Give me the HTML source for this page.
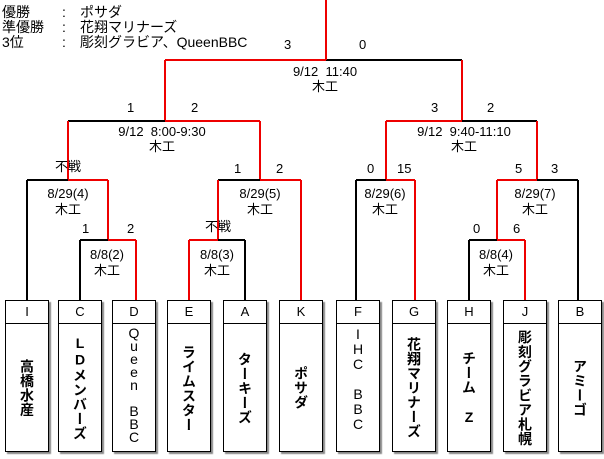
<!DOCTYPE html>
<html><head><meta charset="utf-8"><style>
body{margin:0;width:604px;height:459px;background:#fff;position:relative;overflow:hidden;font-family:"Liberation Sans","Noto Sans CJK JP",sans-serif;}
.t{position:absolute;font-size:13px;line-height:15px;color:#000;white-space:pre;}
.h{font-size:14px;}
.c{position:absolute;font-size:13px;line-height:15px;text-align:center;width:120px;white-space:pre;}
.box{position:absolute;top:300px;width:42px;height:150px;border:1px solid #000;box-shadow:2px 2px 1px #888;background:#fff;}
.hd{height:22px;border-bottom:1px solid #000;text-align:center;font-size:13px;line-height:22px;}
.nm{position:absolute;left:0;right:0;top:24px;bottom:0;display:flex;align-items:center;justify-content:center;overflow:visible;}
.v{writing-mode:vertical-rl;text-orientation:upright;font-size:14px;font-weight:bold;line-height:16px;letter-spacing:0.5px;white-space:pre;}
.q{position:absolute;left:0;right:0;top:26px;text-align:center;font-size:14px;}
svg{position:absolute;left:0;top:0;}
</style></head><body>
<div class="t h" style="left:2px;top:5px">優勝</div><div class="t h" style="left:62px;top:5px">:</div><div class="t h" style="left:80px;top:5px">ポサダ</div>
<div class="t h" style="left:2px;top:20px">準優勝</div><div class="t h" style="left:62px;top:20px">:</div><div class="t h" style="left:80px;top:20px">花翔マリナーズ</div>
<div class="t h" style="left:2px;top:35px">3位</div><div class="t h" style="left:62px;top:35px">:</div><div class="t h" style="left:80px;top:35px">彫刻グラビア、QueenBBC</div>

<svg width="604" height="459">
<g fill="none" stroke-width="2">
<path d="M165 60H326" stroke="#e00"/><path d="M326 60H462" stroke="#000"/><path d="M326 0V60" stroke="#e00"/>
<path d="M165 60V121" stroke="#e00"/><path d="M462 60V121" stroke="#e00"/>
<path d="M68 121H165" stroke="#000"/><path d="M165 121H260" stroke="#e00"/>
<path d="M68 121V180" stroke="#e00"/><path d="M260 121V180" stroke="#e00"/>
<path d="M386 121H462" stroke="#e00"/><path d="M462 121H537" stroke="#000"/>
<path d="M386 121V180" stroke="#e00"/><path d="M537 121V180" stroke="#e00"/>
<path d="M27 180H68" stroke="#000"/><path d="M68 180H108" stroke="#e00"/>
<path d="M27 180V300" stroke="#000"/><path d="M108 180V240" stroke="#e00"/>
<path d="M80 240H108" stroke="#000"/><path d="M108 240H136" stroke="#e00"/>
<path d="M80 240V300" stroke="#000"/><path d="M136 240V300" stroke="#e00"/>
<path d="M218 180H260" stroke="#000"/><path d="M260 180H301" stroke="#e00"/>
<path d="M218 180V240" stroke="#e00"/><path d="M301 180V300" stroke="#e00"/>
<path d="M189 240H218" stroke="#e00"/><path d="M218 240H245" stroke="#000"/>
<path d="M189 240V300" stroke="#e00"/><path d="M245 240V300" stroke="#000"/>
<path d="M356 180H386" stroke="#000"/><path d="M386 180H415" stroke="#e00"/>
<path d="M356 180V300" stroke="#000"/><path d="M415 180V300" stroke="#e00"/>
<path d="M497 180H537" stroke="#e00"/><path d="M537 180H578" stroke="#000"/>
<path d="M497 180V240" stroke="#e00"/><path d="M578 180V300" stroke="#000"/>
<path d="M469 240H497" stroke="#000"/><path d="M497 240H525" stroke="#e00"/>
<path d="M469 240V300" stroke="#000"/><path d="M525 240V300" stroke="#e00"/>
</g>
</svg>

<div class="t" style="left:284px;top:37px">3</div>
<div class="t" style="left:359px;top:37px">0</div>
<div class="c" style="left:265px;top:64px">9/12  11:40</div><div class="c" style="left:265px;top:79px">木工</div>
<div class="t" style="left:127px;top:100px">1</div><div class="t" style="left:191px;top:100px">2</div>
<div class="c" style="left:102px;top:124px">9/12  8:00-9:30</div><div class="c" style="left:102px;top:139px">木工</div>
<div class="t" style="left:431px;top:100px">3</div><div class="t" style="left:487px;top:100px">2</div>
<div class="c" style="left:404px;top:124px">9/12  9:40-11:10</div><div class="c" style="left:404px;top:139px">木工</div>

<div class="c" style="left:8px;top:159px">不戦</div>
<div class="t" style="left:234px;top:161px">1</div><div class="t" style="left:276px;top:161px">2</div>
<div class="t" style="left:367px;top:161px">0</div><div class="t" style="left:397px;top:161px">15</div>
<div class="t" style="left:515px;top:161px">5</div><div class="t" style="left:551px;top:161px">3</div>

<div class="c" style="left:8px;top:186px">8/29(4)</div><div class="c" style="left:8px;top:202px">木工</div>
<div class="c" style="left:200px;top:186px">8/29(5)</div><div class="c" style="left:200px;top:202px">木工</div>
<div class="c" style="left:325px;top:186px">8/29(6)</div><div class="c" style="left:325px;top:202px">木工</div>
<div class="c" style="left:475px;top:186px">8/29(7)</div><div class="c" style="left:475px;top:202px">木工</div>

<div class="t" style="left:82px;top:221px">1</div><div class="t" style="left:127px;top:221px">2</div>
<div class="c" style="left:158px;top:219px">不戦</div>
<div class="t" style="left:473px;top:221px">0</div><div class="t" style="left:513px;top:221px">6</div>

<div class="c" style="left:47px;top:247px">8/8(2)</div><div class="c" style="left:47px;top:263px">木工</div>
<div class="c" style="left:157px;top:247px">8/8(3)</div><div class="c" style="left:157px;top:263px">木工</div>
<div class="c" style="left:436px;top:247px">8/8(4)</div><div class="c" style="left:436px;top:263px">木工</div>

<div class="box" style="left:5px"><div class="hd">I</div><div class="nm"><span class="v">高橋水産</span></div></div>
<div class="box" style="left:58px"><div class="hd">C</div><div class="nm"><span class="v">LDメンバーズ</span></div></div>
<div class="box" style="left:112px"><div class="hd">D</div><div class="q" style="line-height:13px">Q<br>u<br>e<br>e<br>n<br>&nbsp;<br>B<br>B<br>C</div></div>
<div class="box" style="left:167px"><div class="hd">E</div><div class="nm"><span class="v">ライムスター</span></div></div>
<div class="box" style="left:223px"><div class="hd">A</div><div class="nm"><span class="v">ターキーズ</span></div></div>
<div class="box" style="left:279px"><div class="hd">K</div><div class="nm"><span class="v">ポサダ</span></div></div>
<div class="box" style="left:336px"><div class="hd">F</div><div class="q" style="line-height:15px">I<br>H<br>C<br>&nbsp;<br>B<br>B<br>C</div></div>
<div class="box" style="left:392px"><div class="hd">G</div><div class="nm"><span class="v">花翔マリナーズ</span></div></div>
<div class="box" style="left:447px"><div class="hd">H</div><div class="nm"><span class="v">チーム　Z</span></div></div>
<div class="box" style="left:503px"><div class="hd">J</div><div class="nm"><span class="v">彫刻グラビア札幌</span></div></div>
<div class="box" style="left:558px"><div class="hd">B</div><div class="nm"><span class="v">アミーゴ</span></div></div>
</body></html>
